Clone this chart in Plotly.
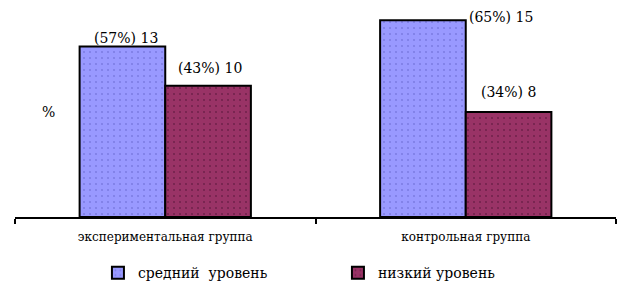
import plotly.graph_objects as go

categories = ["экспериментальная группа", "контрольная группа"]
series_names = ["средний  уровень", "низкий уровень"]
medium_values = [13, 15]
low_values = [10, 8]
medium_pct = [57, 65]
low_pct = [43, 34]

FONT = "DejaVu Serif"
fig = go.Figure()
fig.add_trace(go.Bar(
    x=categories, y=medium_values, name=series_names[0],
    marker=dict(color="#9999FF", line=dict(color="black", width=2),
                pattern=dict(shape=".", bgcolor="#9999FF", fgcolor="#6060C8", size=6, solidity=0.1)),
))
fig.add_trace(go.Bar(
    x=categories, y=low_values, name=series_names[1],
    marker=dict(color="#993366", line=dict(color="black", width=2),
                pattern=dict(shape=".", bgcolor="#993366", fgcolor="#4A1030", size=6, solidity=0.1)),
))

# label placement offsets (style)
med_shift = [(4, 8), (78, 3)]
low_shift = [(2, 18), (0, 20)]
for i, c in enumerate(categories):
    dx, dy = med_shift[i]
    fig.add_annotation(x=c, y=medium_values[i], text=f"({medium_pct[i]}%) {medium_values[i]}",
                       showarrow=False, xshift=-43 + dx, yshift=dy, yanchor="middle",
                       font=dict(family=FONT, size=14, color="black"))
    dx, dy = low_shift[i]
    fig.add_annotation(x=c, y=low_values[i], text=f"({low_pct[i]}%) {low_values[i]}",
                       showarrow=False, xshift=43 + dx, yshift=dy, yanchor="middle",
                       font=dict(family=FONT, size=14, color="black"))

fig.add_annotation(xref="paper", yref="paper", x=0.042, y=0.5, text="%", showarrow=False,
                   font=dict(family=FONT, size=14, color="black"))

fig.update_layout(
    width=624, height=296,
    font=dict(family=FONT),
    margin=dict(l=15, r=8, t=7, b=79),
    paper_bgcolor="white", plot_bgcolor="white",
    barmode="group", bargap=0.43, bargroupgap=0,
    showlegend=True,
    legend=dict(orientation="h", x=0.138, xanchor="left", y=-0.267, yanchor="middle",
                entrywidth=195, font=dict(family=FONT, size=14, color="black"),
                bgcolor="rgba(0,0,0,0)"),
    xaxis=dict(showline=True, linecolor="black", linewidth=1.5, ticks="outside",
               tickson="boundaries", ticklen=5, tickcolor="black", tickwidth=1.5,
               showgrid=False, ticklabelstandoff=8,
               tickfont=dict(family=FONT, size=12, color="black")),
    yaxis=dict(range=[0, 16], visible=False, showgrid=False),
)
fig.write_html("out.html")
